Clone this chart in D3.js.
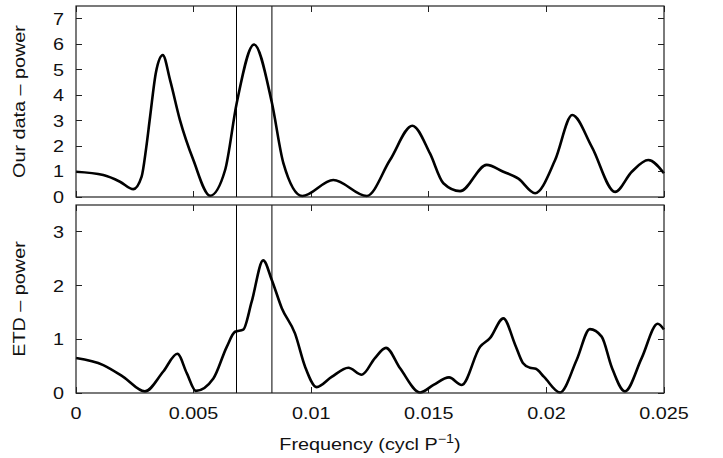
<!DOCTYPE html>
<html>
<head>
<meta charset="utf-8">
<script src="https://cdn.jsdelivr.net/npm/d3@7/dist/d3.min.js"></script>
<style>
  html, body { margin: 0; padding: 0; background: #fff; }
  svg text { font-family: "Liberation Sans", Arial, Helvetica, sans-serif; fill: #111; }
</style>
</head>
<body>
<svg id="chart" width="723" height="458"></svg>
<script>
// Periodogram of our own transit timings (top) and ETD timings (bottom)
const ourFreq  = [0, 0.00116, 0.00187, 0.00244, 0.00279, 0.00298, 0.00315, 0.0034, 0.00369, 0.0040, 0.00442, 0.00499, 0.0057, 0.00634, 0.00683, 0.00757, 0.00832, 0.00882, 0.00962, 0.01094, 0.01236, 0.01335, 0.0143, 0.01505, 0.01562, 0.01633, 0.01746, 0.01817, 0.01881, 0.01952, 0.02037, 0.0211, 0.02193, 0.02292, 0.02363, 0.02433, 0.025];
const ourPower = [0.99, 0.86, 0.60, 0.31, 0.80, 1.90, 3.15, 4.90, 5.57, 4.59, 3.02, 1.45, 0.05, 1.06, 3.67, 5.99, 3.74, 1.32, 0.04, 0.67, 0.04, 1.45, 2.80, 1.71, 0.54, 0.23, 1.26, 0.99, 0.72, 0.15, 1.45, 3.22, 1.97, 0.20, 0.99, 1.45, 0.93];

const etdFreq  = [0, 0.00116, 0.00201, 0.00293, 0.00371, 0.00431, 0.00471, 0.0051, 0.00584, 0.00641, 0.00676, 0.00711, 0.00747, 0.00796, 0.00832, 0.00875, 0.00931, 0.00974, 0.01023, 0.01087, 0.01158, 0.01215, 0.01271, 0.01318, 0.01378, 0.01463, 0.0152, 0.01586, 0.0164, 0.01718, 0.0176, 0.01817, 0.01867, 0.0190, 0.0193, 0.01955, 0.0199, 0.02058, 0.02129, 0.02185, 0.02235, 0.02277, 0.02334, 0.02405, 0.02473, 0.025];
const etdPower = [0.65, 0.52, 0.30, 0.03, 0.40, 0.73, 0.37, 0.04, 0.27, 0.86, 1.14, 1.18, 1.70, 2.47, 2.11, 1.58, 1.11, 0.49, 0.11, 0.30, 0.47, 0.34, 0.65, 0.84, 0.46, 0.01, 0.15, 0.29, 0.15, 0.86, 1.02, 1.39, 0.90, 0.56, 0.47, 0.45, 0.30, 0.01, 0.62, 1.19, 1.05, 0.49, 0.03, 0.65, 1.29, 1.18];

const markFreq   = [0.00682, 0.00833];
const xTicks     = [0, 0.005, 0.01, 0.015, 0.02, 0.025];
const xTickLabel = ["0", "0.005", "0.01", "0.015", "0.02", "0.025"];
const topTicks   = [0, 1, 2, 3, 4, 5, 6, 7];
const botTicks   = [0, 1, 2, 3];

const svg = d3.select("#chart");
const left = 76, right = 664;
const x = d3.scaleLinear().domain([0, 0.025]).range([left, right]);

const FS = 16.5, STRETCH = 1.2;

// text set in a slightly wide face: scale along the baseline
function label(parent, transform, anchor, str) {
  return parent.append("g").attr("transform", transform + ` scale(${STRETCH},1)`)
    .append("text").attr("text-anchor", anchor).attr("font-size", FS).text(str);
}

const panels = [
  { top: 6,   bottom: 197, ymax: 7.5, ticks: topTicks, f: ourFreq, p: ourPower, title: "Our data \u2013 power", showX: false },
  { top: 205, bottom: 393, ymax: 3.5, ticks: botTicks, f: etdFreq, p: etdPower, title: "ETD \u2013 power", showX: true }
];

const tickLen = 6;
panels.forEach(pn => {
  const y = d3.scaleLinear().domain([0, pn.ymax]).range([pn.bottom, pn.top]);
  const g = svg.append("g");

  // vertical markers
  markFreq.forEach((mf, i) => {
    const xv = i === 0 ? Math.round(x(mf)) + 0.5 : x(mf);
    g.append("line")
      .attr("x1", xv).attr("x2", xv).attr("y1", pn.top).attr("y2", pn.bottom)
      .attr("stroke", "#000").attr("stroke-width", 1);
  });

  // inward ticks on all four sides
  const tk = g.append("g").attr("stroke", "#222").attr("stroke-width", 1).attr("shape-rendering", "crispEdges");
  xTicks.forEach(t => {
    tk.append("line").attr("x1", x(t)).attr("x2", x(t)).attr("y1", pn.bottom).attr("y2", pn.bottom - tickLen);
    tk.append("line").attr("x1", x(t)).attr("x2", x(t)).attr("y1", pn.top).attr("y2", pn.top + tickLen);
  });
  pn.ticks.forEach(t => {
    tk.append("line").attr("x1", left).attr("x2", left + tickLen).attr("y1", y(t)).attr("y2", y(t));
    tk.append("line").attr("x1", right).attr("x2", right - tickLen).attr("y1", y(t)).attr("y2", y(t));
    label(g, `translate(64,${y(t)})`, "end", t).attr("dy", "0.36em");
  });

  // curve
  const line = d3.line()
    .x(d => x(d[0])).y(d => y(d[1]))
    .curve(d3.curveMonotoneX);
  g.append("path")
    .datum(pn.f.map((f, i) => [f, pn.p[i]]))
    .attr("d", line)
    .attr("fill", "none").attr("stroke", "#000").attr("stroke-width", 2.6)
    .attr("stroke-linejoin", "round");

  // frame
  g.append("rect")
    .attr("x", left).attr("y", pn.top).attr("width", right - left).attr("height", pn.bottom - pn.top)
    .attr("fill", "none").attr("stroke", "#222").attr("stroke-width", 1.2);

  // y title
  const cy = (pn.top + pn.bottom) / 2;
  label(g, `translate(25,${cy}) rotate(-90)`, "middle", pn.title);

  if (pn.showX) {
    xTicks.forEach((t, i) => {
      label(g, `translate(${x(t)},419)`, "middle", xTickLabel[i]);
    });
    const xt = label(g, `translate(${x(0.0125)},450)`, "middle", null);
    xt.append("tspan").text("Frequency (cycl P");
    xt.append("tspan").attr("dy", -7).attr("font-size", 12).text("\u22121");
    xt.append("tspan").attr("dy", 7).text(")");
  }
});
</script>
</body>
</html>
